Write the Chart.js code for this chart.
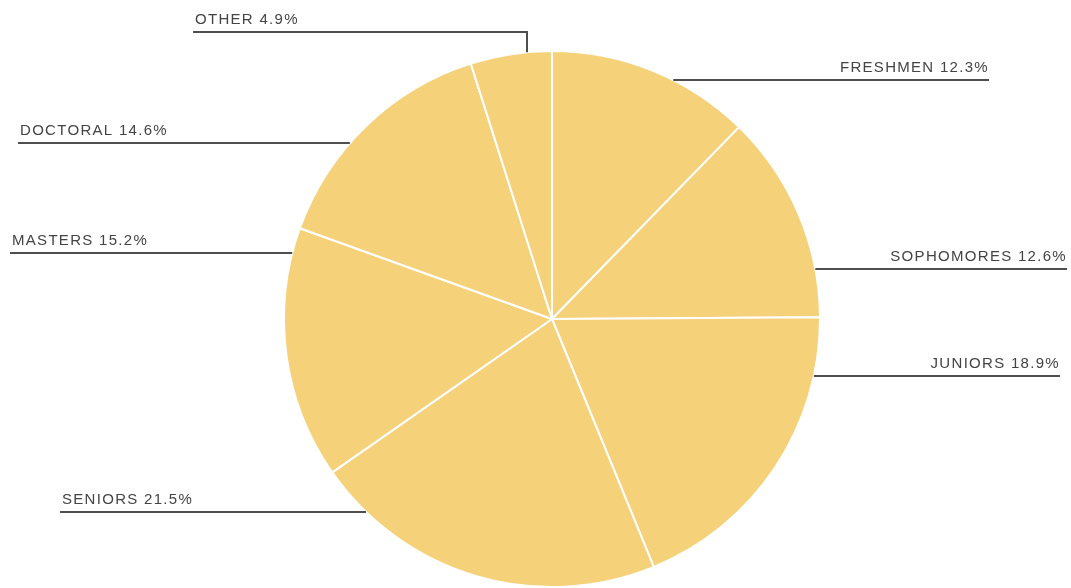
<!DOCTYPE html>
<html>
<head>
<meta charset="utf-8">
<script src="https://cdn.jsdelivr.net/npm/chart.js@4"></script>
<style>
  html, body { margin: 0; padding: 0; background: #ffffff; }
  #wrap { width: 1071px; height: 588px; position: relative; }
</style>
</head>
<body>
<div id="wrap"><canvas id="grafico"></canvas></div>
<script>
// Student enrolment by level (percent)
const categorias = ['FRESHMEN', 'SOPHOMORES', 'JUNIORS', 'SENIORS', 'MASTERS', 'DOCTORAL', 'OTHER'];
const percentagens = [12.3, 12.6, 18.9, 21.5, 15.2, 14.6, 4.9];

// Where each callout sits: y of the leader line, far end x, side, optional elbow x
const chamadas = [
    { y: 80,  fim: 989,  lado: 'direita' },
    { y: 269, fim: 1067, lado: 'direita' },
    { y: 376, fim: 1060, lado: 'direita' },
    { y: 512, fim: 60,   lado: 'esquerda' },
    { y: 253, fim: 10,   lado: 'esquerda' },
    { y: 143, fim: 18,   lado: 'esquerda' },
    { y: 32,  fim: 193,  lado: 'esquerda', cotovelo: 527 }
];

// Draws the labels with their leader lines after the pie
const etiquetas = {
    id: 'etiquetas',
    afterDraw(chart) {
        const ctx = chart.ctx;
        const arco = chart.getDatasetMeta(0).data[0];
        const cx = arco.x, cy = arco.y, r = arco.outerRadius;

        ctx.save();
        ctx.strokeStyle = '#4f4f4f';
        ctx.lineWidth = 2;
        ctx.fillStyle = '#444444';
        ctx.font = '15px "Liberation Sans", Arial, sans-serif';
        ctx.letterSpacing = '1.3px';
        ctx.textBaseline = 'alphabetic';

        chamadas.forEach(function(c, i) {
            const texto = categorias[i] + ' ' + percentagens[i].toFixed(1) + '%';
            ctx.beginPath();
            if (c.cotovelo !== undefined) {
                // horizontal line then drop down to the top of the pie
                const yBorda = cy - Math.sqrt(r * r - (c.cotovelo - cx) * (c.cotovelo - cx));
                ctx.moveTo(c.fim, c.y);
                ctx.lineTo(c.cotovelo, c.y);
                ctx.lineTo(c.cotovelo, yBorda);
            } else {
                const dx = Math.sqrt(Math.max(r * r - (c.y - cy) * (c.y - cy), 0));
                const xBorda = c.lado === 'direita' ? cx + dx : cx - dx;
                ctx.moveTo(xBorda, c.y);
                ctx.lineTo(c.fim, c.y);
            }
            ctx.stroke();

            if (c.lado === 'direita') {
                ctx.textAlign = 'right';
                ctx.fillText(texto, c.fim, c.y - 8);
            } else {
                ctx.textAlign = 'left';
                ctx.fillText(texto, c.fim + 2, c.y - 8);
            }
        });
        ctx.restore();
    }
};

new Chart(document.getElementById('grafico'), {
    type: 'pie',
    data: {
        labels: categorias,
        datasets: [{
            data: percentagens,
            backgroundColor: '#f5d17a',
            borderColor: '#ffffff',
            borderWidth: 2,
            hoverOffset: 0
        }]
    },
    options: {
        responsive: true,
        maintainAspectRatio: false,
        animation: false,
        events: [],
        layout: { padding: { top: 50, bottom: 0, left: 283, right: 250 } },
        plugins: {
            legend: { display: false },
            tooltip: { enabled: false }
        }
    },
    plugins: [etiquetas]
});
</script>
</body>
</html>
